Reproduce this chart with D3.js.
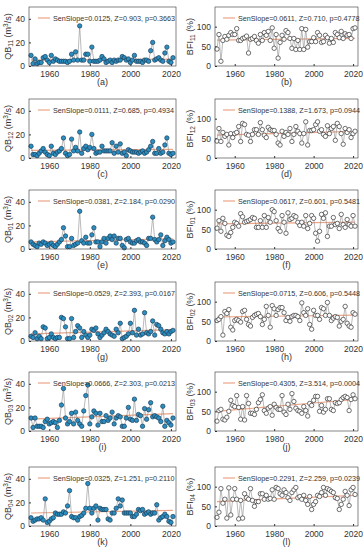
<!DOCTYPE html>
<html>
<head>
<meta charset="utf-8">
<script src="https://cdn.jsdelivr.net/npm/d3@7"></script>
<style>
body { margin: 0; background: #fff; }
svg { font-family: Arial, "Liberation Sans", sans-serif; }
.tick text { fill: #333; font-size: 8.5px; }
.tick line { stroke: #333; }
.domain { display: none; }
</style>
</head>
<body>
<svg id="chart" width="363" height="550"></svg>
<script>
// years 1951..2021
var years = d3.range(1951, 2022);

var qb11 = [9,2,6,2,3,3,7,8,5,3, 9,4,6,5,4,4,4,4,3,4, 10,5,12,5,34,5,5,10,10,4, 16,4,4,4,5,8,6,3,4,5,
  3,5,4,5,5,8,7,5,6,3, 5,9,4,4,4,3,5,5,4,13, 20,5,6,7,5,4,11,16,4,3,7];
var bfi11 = [43,80,12,65,75,68,78,85,80,80, 95,65,65,70,72,76,33,68,70,75, 65,58,80,65,85,78,88,65,97,45,
  80,20,60,78,68,90,85,70,45,70, 42,65,42,95,42,93,48,62,62,72, 62,85,78,60,62,78,72,58,70,60,
  85,80,72,88,70,82,78,80,70,95,97];
var qb12 = [10,3,3,2,4,6,8,5,3,2, 10,4,3,5,6,8,17,4,2,3, 16,6,9,6,22,4,8,10,7,9, 20,8,4,5,5,10,6,6,6,6,
  13,4,10,5,12,4,5,2,7,6, 5,5,5,4,5,6,4,5,7,10, 14,4,4,8,4,5,11,17,4,3,4];
var bfi12 = [43,75,42,65,55,60,33,62,52,62, 65,80,42,88,85,60,58,42,60,72, 72,60,90,72,58,52,78,72,70,70,
  60,38,33,68,55,65,60,75,42,60, 80,68,62,38,62,92,33,70,70,72, 85,92,68,72,60,55,82,62,75,80,
  45,88,80,62,35,75,65,72,52,62,68];
var qb01 = [6,4,3,2,5,4,6,5,3,4, 5,3,2,4,6,8,18,11,2,2, 9,3,4,5,32,7,5,10,5,5, 12,18,6,6,2,6,9,5,9,11,
  8,11,5,9,9,3,1,8,9,6, 5,5,7,8,6,6,5,3,9,9, 27,8,6,8,12,3,7,10,8,5,6];
var bfi01 = [53,72,45,78,65,35,32,42,55,68, 65,58,90,82,68,70,72,75,80,78, 55,55,72,55,85,55,80,68,100,95,
  72,52,45,85,68,40,92,75,78,85, 82,68,60,68,58,85,52,65,85,78, 40,20,45,88,78,92,32,58,58,80,
  62,65,52,88,62,55,75,62,58,85,58];
var qb02 = [4,3,7,2,4,2,12,11,2,3, 6,3,2,3,3,20,19,12,2,2, 19,3,8,13,11,3,8,5,3,5, 10,9,11,6,3,5,7,10,8,6,
  5,4,10,7,15,2,3,4,6,15, 7,26,5,10,5,6,24,7,6,8, 17,5,14,13,10,7,6,8,6,8,9];
var bfi02 = [52,55,62,15,75,70,80,35,28,52, 55,52,48,75,78,55,42,38,60,65, 68,70,62,42,55,88,65,35,90,82,
  65,80,85,85,72,52,60,50,62,65, 65,62,52,97,72,65,82,42,30,78, 65,65,55,85,82,65,98,65,52,58,
  62,60,38,50,55,88,45,38,35,72,68];
var qb03 = [11,3,11,4,4,4,3,8,10,6, 7,8,7,3,9,22,36,11,6,8, 15,6,16,9,6,4,17,30,39,6, 12,17,15,5,15,8,8,13,9,11,
  16,6,11,13,12,4,4,11,20,10, 9,27,9,14,13,4,19,10,18,24, 12,13,12,11,8,21,4,9,7,5,11];
var bfi03 = [25,52,55,30,28,35,50,78,65,62, 90,60,30,62,28,90,70,45,45,42, 55,72,80,92,52,45,58,62,40,68,
  60,55,55,90,48,42,68,55,95,75, 58,52,50,45,62,52,38,70,65,78, 88,88,50,65,48,55,82,82,55,52,
  72,70,72,80,85,88,85,52,80,92,82];
var qb04 = [7,4,5,6,6,7,5,23,3,4, 6,7,11,10,10,10,12,11,17,30, 8,7,7,5,8,9,11,15,36,15, 11,15,17,5,15,14,14,14,6,5,
  11,11,15,23,17,22,11,11,11,11, 8,8,10,14,13,14,10,11,12,10, 11,11,18,5,7,8,10,8,4,3,8];
var bfi04 = [22,35,95,58,68,20,97,28,68,95, 68,18,65,20,82,72,68,95,65,50, 62,62,82,82,68,78,68,70,92,68,
  98,95,82,78,92,85,72,65,85,92, 98,72,75,68,78,65,55,75,42,55, 62,78,75,85,98,78,95,92,88,85,
  72,70,42,55,68,88,78,52,92,98,80];

var months = ["11", "12", "01", "02", "03", "04"];
var qbSeries = [qb11, qb12, qb01, qb02, qb03, qb04];
var bfiSeries = [bfi11, bfi12, bfi01, bfi02, bfi03, bfi04];
var qbSlope = [0.0125, 0.0111, 0.0381, 0.0529, 0.0666, 0.0325];
var qbZ = ["0.903", "0.685", "2.184", "2.393", "2.303", "1.251"];
var qbP = ["0.3663", "0.4934", "0.0290", "0.0167", "0.0213", "0.2110"];
var qbStart = [5.0, 6.5, 6.0, 6.0, 10.0, 11.0];
var bfiSlope = [0.0611, 0.1388, 0.0617, 0.0715, 0.4305, 0.2291];
var bfiZ = ["0.710", "1.673", "0.601", "0.606", "3.514", "2.259"];
var bfiP = ["0.4778", "0.0944", "0.5481", "0.5448", "0.0004", "0.0239"];
var bfiStart = [66, 58, 64, 61, 50, 62];
var letters = ["a","b","c","d","e","f","g","h","i","j","k","l"];
var xTicks = [1960, 1980, 2000, 2020];

var svg = d3.select("#chart");
var rowTop = [7, 99, 190, 282, 372, 467];
var plotH = 59;
var cols = [{x0: 29, x1: 176}, {x0: 215, x1: 358}];

function drawPanel(row, col) {
    var isQB = col == 0;
    var c = cols[col];
    var top = rowTop[row];
    var bottom = top + plotH;
    var vals = isQB ? qbSeries[row] : bfiSeries[row];
    var slope = isQB ? qbSlope[row] : bfiSlope[row];
    var start = isQB ? qbStart[row] : bfiStart[row];

    var x = d3.scaleLinear().domain([1950, 2022.5]).range([c.x0, c.x1]);
    var y = d3.scaleLinear().domain(isQB ? [0, 50] : [0, 150]).range([bottom, top]);

    var g = svg.append("g");

    g.append("g")
        .attr("transform", "translate(0," + bottom + ")")
        .call(d3.axisBottom(x).tickValues(xTicks).tickFormat(d3.format("d"))
            .tickSizeInner(-2).tickSizeOuter(0).tickPadding(5));
    g.append("g")
        .attr("transform", "translate(" + c.x0 + ",0)")
        .call(d3.axisLeft(y).tickValues(isQB ? [0, 20, 40] : [0, 50, 100])
            .tickSizeInner(-2).tickSizeOuter(0).tickPadding(4));

    // trend line
    g.append("line")
        .attr("x1", x(years[0])).attr("x2", x(years[years.length - 1]))
        .attr("y1", y(start)).attr("y2", y(start + slope * (years.length - 1)))
        .attr("stroke", "#eba486").attr("stroke-width", 1.2);

    var pts = years.map(function (yr, i) { return [yr, vals[i]]; });
    g.append("path")
        .datum(pts)
        .attr("fill", "none")
        .attr("stroke", "#8c8c8c")
        .attr("stroke-width", 0.6)
        .attr("d", d3.line().x(function (d) { return x(d[0]); }).y(function (d) { return y(d[1]); }));

    g.selectAll("circle")
        .data(pts)
        .enter()
        .append("circle")
        .attr("cx", function (d) { return x(d[0]); })
        .attr("cy", function (d) { return y(d[1]); })
        .attr("r", 2.2)
        .attr("fill", isQB ? "#2a8fc0" : "#fff")
        .attr("stroke", isQB ? "#1d3f5c" : "#333")
        .attr("stroke-width", 0.7);

    // box
    g.append("rect")
        .attr("x", c.x0).attr("y", top)
        .attr("width", c.x1 - c.x0).attr("height", plotH)
        .attr("fill", "none").attr("stroke", "#333").attr("stroke-width", 0.6);

    // legend
    var lx = c.x0 + (isQB ? 9 : 8);
    var ly = top + 11;
    g.append("line")
        .attr("x1", lx).attr("x2", lx + 12).attr("y1", ly).attr("y2", ly)
        .attr("stroke", "#eba486").attr("stroke-width", 1.2);
    g.append("text")
        .attr("x", lx + 15).attr("y", ly + 2.5)
        .attr("font-size", 7.2).attr("fill", "#333")
        .text("SenSlope=" + slope.toFixed(4) + ", Z=" + (isQB ? qbZ[row] : bfiZ[row]) +
            ", p=" + (isQB ? qbP[row] : bfiP[row]));

    // y label
    var ylab = g.append("text")
        .attr("transform", "translate(" + (c.x0 - (isQB ? 18 : 22)) + "," + (top + plotH / 2) + ") rotate(-90)")
        .attr("text-anchor", "middle")
        .attr("font-size", 9).attr("fill", "#333");
    if (isQB) {
        ylab.append("tspan").text("QB");
        ylab.append("tspan").attr("font-size", 6.5).attr("dy", 2).text(months[row]);
        ylab.append("tspan").attr("dy", -2).text(" (m");
        ylab.append("tspan").attr("font-size", 6.5).attr("dy", -3).text("3");
        ylab.append("tspan").attr("dy", 3).text("/s)");
    } else {
        ylab.append("tspan").text("BFI");
        ylab.append("tspan").attr("font-size", 6.5).attr("dy", 2).text(months[row]);
        ylab.append("tspan").attr("dy", -2).text(" (%)");
    }

    // panel caption
    g.append("text")
        .attr("x", (c.x0 + c.x1) / 2).attr("y", bottom + 19)
        .attr("text-anchor", "middle")
        .attr("font-size", 9).attr("fill", "#333")
        .text("(" + letters[row * 2 + col] + ")");
}

for (var r = 0; r < 6; r++) {
    drawPanel(r, 0);
    drawPanel(r, 1);
}
</script>
</body>
</html>
